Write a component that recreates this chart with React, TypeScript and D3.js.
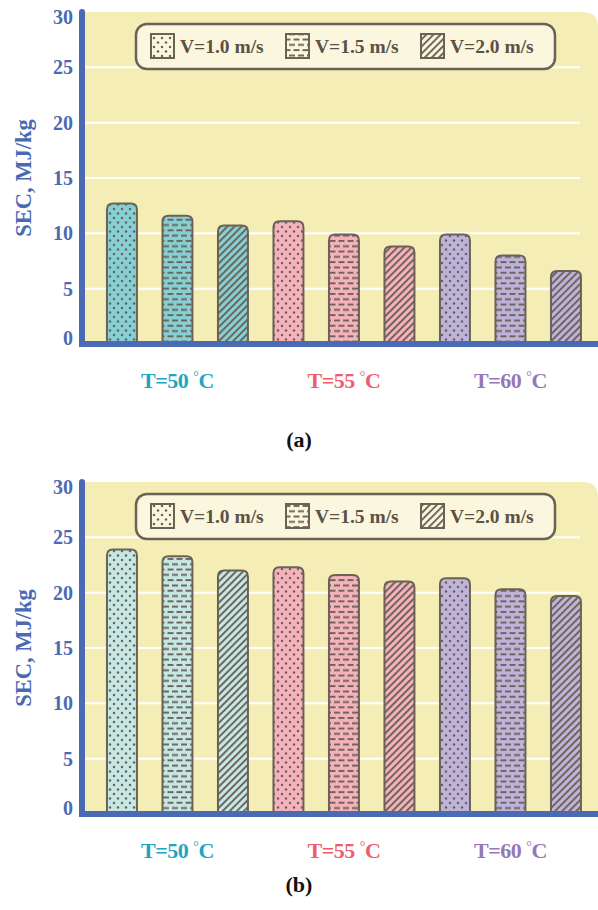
import React, { useEffect, useRef } from 'react';
import * as d3 from 'd3';

const groups = ['50', '55', '60'];
const speeds = ['V=1.0 m/s', 'V=1.5 m/s', 'V=2.0 m/s'];
const patterns = ['dots', 'bricks', 'hatch'];
const yTicks = [0, 5, 10, 15, 20, 25, 30];

// SEC values (MJ/kg) per temperature group, per air speed
const secA = [
  [12.7, 11.6, 10.7],
  [11.1, 9.9, 8.8],
  [9.9, 8.0, 6.6],
];
const secB = [
  [23.9, 23.3, 22.0],
  [22.3, 21.6, 21.0],
  [21.3, 20.3, 19.7],
];

const fillsA = ['#86cfd4', '#f5b2bc', '#bdb2da'];
const fillsB = ['#c6e7e4', '#f5b2bc', '#c0b3da'];
const labelColors = ['#1ea6bd', '#ee5d6c', '#9678b7'];

const BLUE = '#4a6bb4';
const INK = '#6b6256';
const FONT = '"Liberation Serif", "Times New Roman", serif';

const App: React.FC = () => {
  const svgRef = useRef<SVGSVGElement>(null);

  useEffect(() => {
    if (!svgRef.current) return;
    const svg = d3.select(svgRef.current);
    svg.selectAll('*').remove();

    const defs = svg.append('defs');
    // dot pattern
    const pd = defs
      .append('pattern')
      .attr('id', 'dots')
      .attr('patternUnits', 'userSpaceOnUse')
      .attr('width', 8)
      .attr('height', 9);
    pd.append('circle').attr('cx', 2).attr('cy', 2).attr('r', 1.25).attr('fill', INK);
    pd.append('circle').attr('cx', 6).attr('cy', 6.5).attr('r', 1.25).attr('fill', INK);
    // brick pattern
    const pb = defs
      .append('pattern')
      .attr('id', 'bricks')
      .attr('patternUnits', 'userSpaceOnUse')
      .attr('width', 9)
      .attr('height', 10.6);
    [
      [1, 1.5],
      [-3.5, 6.8],
      [5.5, 6.8],
    ].forEach(([x, y]) =>
      pb.append('rect').attr('x', x).attr('y', y).attr('width', 6).attr('height', 1.9).attr('fill', INK),
    );
    // diagonal hatch
    const ph = defs
      .append('pattern')
      .attr('id', 'hatch')
      .attr('patternUnits', 'userSpaceOnUse')
      .attr('width', 5)
      .attr('height', 5)
      .attr('patternTransform', 'rotate(45)');
    ph.append('rect').attr('x', 0).attr('y', 0).attr('width', 1.9).attr('height', 5).attr('fill', INK);

    const x0 = d3.scaleBand<string>().domain(groups).range([94.2, 593.7]);
    const x1 = d3
      .scaleBand<string>()
      .domain(speeds)
      .range([0, x0.bandwidth()])
      .paddingInner(0.46)
      .paddingOuter(0.23);

    const drawPanel = (
      offset: number,
      data: number[][],
      fills: string[],
      caption: string,
      captionY: number,
    ) => {
      const y = d3.scaleLinear().domain([0, 30]).range([344 + offset, 12 + offset]);
      const g = svg.append('g');
      const top = y(30);
      const base = y(0);

      // yellow plot background, rounded at the top right
      g.append('path')
        .attr('d', `M85,${top} H583 Q598,${top} 598,${top + 15} V${base} H85 Z`)
        .attr('fill', '#f4eeb6');

      // gridlines
      g.append('g')
        .selectAll('line')
        .data(yTicks.filter((t) => t > 0 && t < 30))
        .join('line')
        .attr('x1', 85)
        .attr('x2', 580)
        .attr('y1', (d) => y(d))
        .attr('y2', (d) => y(d))
        .attr('stroke', '#ffffff')
        .attr('stroke-width', 2);

      // bars
      const barPath = (bx: number, by: number, w: number) => {
        const r = Math.min(6, (base - by) / 2);
        return `M${bx},${base} V${by + r} Q${bx},${by} ${bx + r},${by} H${bx + w - r} Q${bx + w},${by} ${bx + w},${by + r} V${base} Z`;
      };
      const bars = groups.flatMap((grp, gi) =>
        speeds.map((sp, si) => ({
          x: (x0(grp) as number) + (x1(sp) as number),
          v: data[gi][si],
          fill: fills[gi],
          pat: patterns[si],
        })),
      );
      const bg = g.append('g').selectAll('g').data(bars).join('g');
      bg.append('path')
        .attr('d', (d) => barPath(d.x, y(d.v), x1.bandwidth()))
        .attr('fill', (d) => d.fill);
      bg.append('path')
        .attr('d', (d) => barPath(d.x, y(d.v), x1.bandwidth()))
        .attr('fill', (d) => `url(#${d.pat})`)
        .attr('stroke', INK)
        .attr('stroke-width', 2);

      // legend
      const lg = g.append('g');
      lg.append('rect')
        .attr('x', 136)
        .attr('y', 24 + offset)
        .attr('width', 419)
        .attr('height', 45)
        .attr('rx', 11)
        .attr('fill', '#fbf7de')
        .attr('stroke', INK)
        .attr('stroke-width', 2.5);
      const lx = [151, 286, 421];
      speeds.forEach((sp, i) => {
        lg.append('rect')
          .attr('x', lx[i])
          .attr('y', 34 + offset)
          .attr('width', 23)
          .attr('height', 24)
          .attr('fill', `url(#${patterns[i]})`)
          .attr('stroke', INK)
          .attr('stroke-width', 2);
        lg.append('text')
          .attr('x', lx[i] + 29)
          .attr('y', 53 + offset)
          .attr('font-family', FONT)
          .attr('font-weight', 'bold')
          .attr('font-size', 19.5)
          .attr('fill', '#5a5147')
          .text(sp);
      });

      // axes
      g.append('line')
        .attr('x1', 79)
        .attr('x2', 598)
        .attr('y1', base)
        .attr('y2', base)
        .attr('stroke', BLUE)
        .attr('stroke-width', 6);
      g.append('line')
        .attr('x1', 82)
        .attr('x2', 82)
        .attr('y1', top)
        .attr('y2', base)
        .attr('stroke', BLUE)
        .attr('stroke-width', 6)
        .attr('stroke-linecap', 'round');

      // tick labels
      g.append('g')
        .selectAll('text')
        .data(yTicks)
        .join('text')
        .attr('x', 73)
        .attr('y', (d) => Math.min(Math.max(y(d), top + 5), base - 6))
        .attr('dy', '0.35em')
        .attr('text-anchor', 'end')
        .attr('font-family', FONT)
        .attr('font-weight', 'bold')
        .attr('font-size', 20)
        .attr('fill', BLUE)
        .text((d) => d);

      // y title
      g.append('text')
        .attr('transform', `translate(31,${178 + offset}) rotate(-90)`)
        .attr('text-anchor', 'middle')
        .attr('font-family', FONT)
        .attr('font-weight', 'bold')
        .attr('font-size', 22.5)
        .attr('fill', BLUE)
        .text('SEC, MJ/kg');

      // group labels: "T=50 °C" with a small raised degree sign
      groups.forEach((grp, gi) => {
        const cx = (x0(grp) as number) + x0.bandwidth() / 2;
        const t = g
          .append('text')
          .attr('x', cx)
          .attr('y', 388 + offset)
          .attr('text-anchor', 'middle')
          .attr('font-family', FONT)
          .attr('font-weight', 'bold')
          .attr('font-size', 22)
          .attr('letter-spacing', -0.5)
          .attr('fill', labelColors[gi]);
        t.append('tspan').text(`T=${grp} `);
        t.append('tspan').attr('font-size', 14).attr('font-weight', 'normal').attr('dy', -7).text('°');
        t.append('tspan').attr('dy', 7).text('C');
      });

      // caption
      g.append('text')
        .attr('x', 299)
        .attr('y', captionY)
        .attr('text-anchor', 'middle')
        .attr('font-family', FONT)
        .attr('font-weight', 'bold')
        .attr('font-size', 22)
        .attr('fill', '#111')
        .text(caption);
    };

    drawPanel(0, secA, fillsA, '(a)', 447);
    drawPanel(470, secB, fillsB, '(b)', 892);
  }, []);

  return (
    <svg
      ref={svgRef}
      width={598}
      height={910}
      style={{ position: 'absolute', left: 0, top: 0, background: '#fff' }}
    />
  );
};

export default App;
